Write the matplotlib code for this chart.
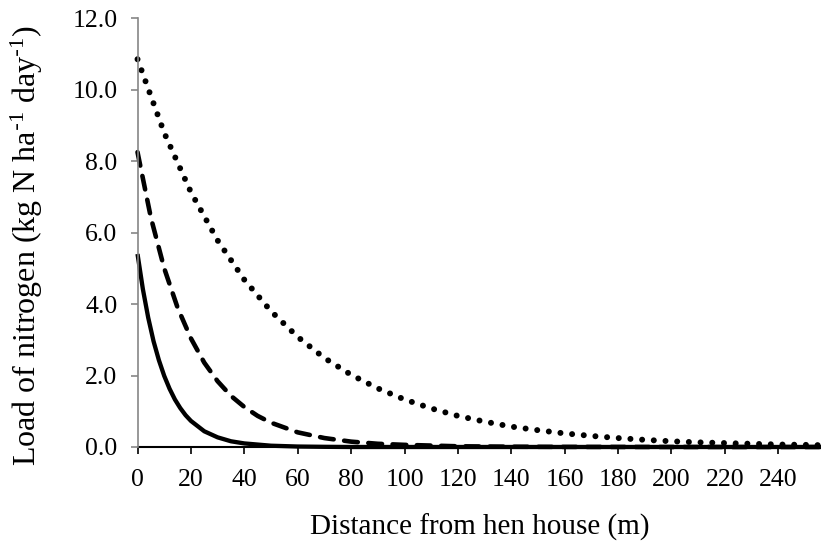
import matplotlib
matplotlib.use("Agg")
import matplotlib.pyplot as plt

# values (distance in m, load in kg N/ha/day)
x_solid = [0, 2, 4, 6, 8, 10, 12, 14, 16, 18, 20, 25, 30, 35, 40, 50, 60, 70, 80, 100, 150, 200, 256]
y_solid = [5.40, 4.42, 3.62, 2.96, 2.43, 1.99, 1.63, 1.33, 1.09, 0.89, 0.73, 0.44, 0.27, 0.16, 0.10,
           0.036, 0.013, 0.005, 0.0, 0.0, 0.0, 0.0, 0.0]

x_dashed = [0, 5, 10, 15, 20, 25, 30, 35, 40, 45, 50, 60, 70, 80, 90, 100, 120, 140, 160, 200, 256]
y_dashed = [8.25, 6.42, 5.00, 3.90, 3.04, 2.36, 1.84, 1.43, 1.12, 0.87, 0.68, 0.41, 0.25, 0.15,
            0.09, 0.06, 0.02, 0.008, 0.003, 0.0, 0.0]

x_dotted = [0, 10, 20, 30, 40, 50, 60, 70, 80, 90, 100, 110, 120, 130, 140, 150, 160, 170, 180,
            190, 200, 210, 220, 230, 240, 250, 256]
y_dotted = [10.85, 8.79, 7.13, 5.78, 4.68, 3.80, 3.08, 2.49, 2.02, 1.64, 1.33, 1.08, 0.87, 0.71,
            0.57, 0.47, 0.38, 0.31, 0.25, 0.20, 0.16, 0.13, 0.11, 0.09, 0.07, 0.06, 0.05]

x_ticks = list(range(0, 241, 20))
y_ticks = [0, 2, 4, 6, 8, 10, 12]

plt.rcParams['font.family'] = ['Liberation Serif', 'DejaVu Serif']
plt.rcParams['mathtext.default'] = 'regular'

fig = plt.figure(figsize=(8.21, 5.49), dpi=100)
ax = fig.add_axes([0.1675, 0.1858, 0.8325, 0.7812])

ax.plot(x_dotted, y_dotted, color='black', lw=4.3, linestyle=(0, (0.01, 1.95)),
        dash_capstyle='round', clip_on=False)
ax.plot(x_dashed, y_dashed, color='black', lw=3.3, linestyle=(0, (3.0, 2.3)),
        dash_capstyle='round', clip_on=False)
ax.plot(x_solid, y_solid, color='black', lw=3.1, solid_capstyle='butt', clip_on=False)

ax.set_xlim(0, 256)
ax.set_ylim(0, 12)
ax.set_xticks(x_ticks)
ax.set_yticks(y_ticks)
ax.set_yticklabels(['%.1f' % v for v in y_ticks])

ax.spines['top'].set_visible(False)
ax.spines['right'].set_visible(False)
ax.spines['left'].set_color('#868686')
ax.spines['left'].set_linewidth(1.2)
ax.spines['bottom'].set_color('black')
ax.spines['bottom'].set_linewidth(1.5)
ax.spines['bottom'].set_zorder(1)

ax.tick_params(axis='y', colors='#868686', labelcolor='black', length=5, width=1.2,
               labelsize=18.5, pad=9.5)
ax.tick_params(axis='x', colors='black', length=5, width=1.2, labelsize=18.5, pad=11)

ax.set_xlabel('Distance from hen house (m)', fontsize=21, labelpad=16)
ax.set_ylabel(r'Load of nitrogen (kg N ha$^{\text{-}1}$ day$^{\text{-}1}$)', fontsize=23)
ax.yaxis.set_label_coords(-0.135, 0.47)

fig.savefig('out.png', dpi=100)
